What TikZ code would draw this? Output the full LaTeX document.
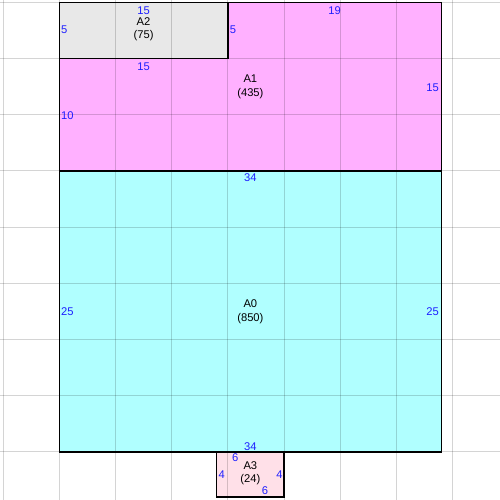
\documentclass[tikz,border=0pt]{standalone}
\usepackage{fontspec}
\setmainfont{Liberation Sans}
\definecolor{dimblue}{RGB}{30,30,255}
\definecolor{fillgray}{RGB}{232,232,232}
\definecolor{fillpink}{RGB}{255,176,255}
\definecolor{fillcyan}{RGB}{176,255,255}
\definecolor{fillrose}{RGB}{255,224,232}
\tikzset{
    dim/.style={text=dimblue, font=\fontsize{8.5}{10}\selectfont, inner sep=0pt},
    area/.style={align=center, font=\fontsize{8.5}{10.5}\selectfont, inner sep=0pt},
    room/.style={draw=black, line width=1.1pt},
    gridline/.style={black, opacity=0.17, line width=0.75pt}
}

\begin{document}
\begin{tikzpicture}[x=0.3cm, y=0.3cm]
        \useasboundingbox (-5.275,-4.27) rectangle (39.21,40.21);

        % fills
        \fill[fillcyan] (0,0) rectangle (34,25);
        \fill[fillpink] (0,25) -- (34,25) -- (34,40) -- (15,40) -- (15,35) -- (0,35) -- cycle;
        \fill[fillgray] (0,35) rectangle (15,40);
        \fill[fillrose] (14,-4) rectangle (20,0);

        % grid
        \foreach \x in {-5,0,...,35}
            \draw[gridline] (\x,-4.27) -- (\x,40.21);
        \foreach \y in {0,5,...,40}
            \draw[gridline] (-5.275,\y) -- (39.21,\y);

        % outlines
        \draw[room] (0,0) rectangle (34,25);
        \draw[room] (0,25) -- (34,25) -- (34,40) -- (15,40) -- (15,35) -- (0,35) -- cycle;
        \draw[room] (0,35) rectangle (15,40);
        \draw[room] (14,-4) rectangle (20,0);

        % names
        \node[area] (a0) at (17,12.5) {A0\\(850)};
        \node[area] (a1) at (17,32.5) {A1\\(435)};
        \node[area] (a2) at (7.5,37.6) {A2\\(75)};
        \node[area] (a3) at (17,-1.9) {A3\\(24)};

        % sizes
        \node[dim] (a2top) at (7.5,39.25) {15};
        \node[dim, anchor=west] (a2left) at (0.15,37.55) {5};
        \node[dim, anchor=west] (a2right) at (15.15,37.55) {5};
        \node[dim] (a1step) at (7.5,34.3) {15};
        \node[dim] (a1top) at (24.5,39.3) {19};
        \node[dim, anchor=west] (a1left) at (0.15,29.9) {10};
        \node[dim, anchor=east] (a1right) at (33.8,32.4) {15};
        \node[dim] (a0top) at (17,24.4) {34};
        \node[dim] (a0bottom) at (17,0.5) {34};
        \node[dim, anchor=west] (a0left) at (0.15,12.45) {25};
        \node[dim, anchor=east] (a0right) at (33.8,12.45) {25};
        \node[dim] (a3top) at (15.65,-0.55) {6};
        \node[dim] (a3left) at (14.45,-2.05) {4};
        \node[dim] (a3right) at (19.6,-2.05) {4};
        \node[dim] (a3bottom) at (18.3,-3.45) {6};
\end{tikzpicture}
\end{document}
